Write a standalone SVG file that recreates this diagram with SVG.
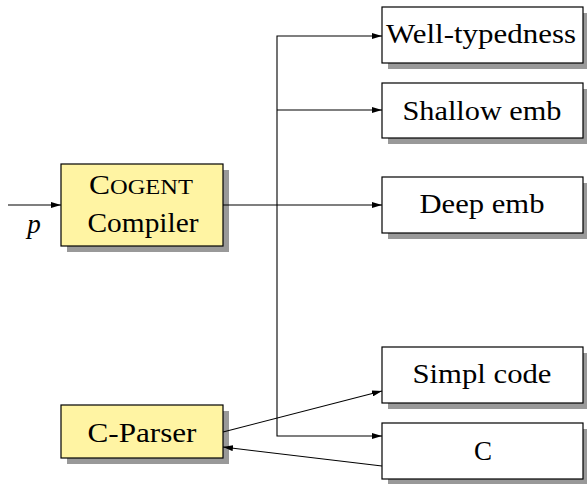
<svg xmlns="http://www.w3.org/2000/svg" width="587" height="484" viewBox="0 0 587 484">
<defs>
<marker id="ah" viewBox="0 0 10 6" refX="10" refY="3" markerWidth="10" markerHeight="6" markerUnits="userSpaceOnUse" orient="auto">
<path d="M0,0 L10,3 L0,6 z" fill="#000"/>
</marker>
</defs>
<style>
.box{fill:#fff;stroke:#000;stroke-width:1.2}
.ybox{fill:#fff4a3;stroke:#000;stroke-width:1.2}
.sh{fill:#999}
.t{font-size:27px;fill:#000;text-anchor:middle}
.c{fill:none;stroke:#000;stroke-width:1.1}
.a{marker-end:url(#ah)}
</style>
<rect width="587" height="484" fill="#fff"/>
<g font-family="Liberation Serif, Times New Roman, Tinos, Noto Serif, DejaVu Serif, FreeSerif, serif">
<g id="compiler">
<rect class="sh" x="67" y="170" width="162" height="82"/>
<rect class="ybox" x="61" y="164" width="162" height="82"/>
<text class="t" x="141" y="194" textLength="104" lengthAdjust="spacingAndGlyphs"><tspan>C</tspan><tspan font-size="21">OGENT</tspan></text>
<text class="t" x="143" y="232" textLength="111" lengthAdjust="spacingAndGlyphs">Compiler</text>
</g>
<g id="cparser">
<rect class="sh" x="67" y="411" width="162" height="53"/>
<rect class="ybox" x="61" y="405" width="162" height="53"/>
<text class="t" x="142" y="442" textLength="109" lengthAdjust="spacingAndGlyphs">C-Parser</text>
</g>
<g id="welltyped">
<rect class="sh" x="388" y="13" width="201" height="56"/>
<rect class="box" x="382" y="7" width="201" height="56"/>
<text class="t" x="481" y="43" textLength="190" lengthAdjust="spacingAndGlyphs">Well-typedness</text>
</g>
<g id="shallow">
<rect class="sh" x="388" y="89" width="201" height="55"/>
<rect class="box" x="382" y="83" width="201" height="55"/>
<text class="t" x="482" y="120" textLength="159" lengthAdjust="spacingAndGlyphs">Shallow emb</text>
</g>
<g id="deep">
<rect class="sh" x="388" y="183" width="201" height="56"/>
<rect class="box" x="382" y="177" width="201" height="56"/>
<text class="t" x="482" y="213" textLength="125" lengthAdjust="spacingAndGlyphs">Deep emb</text>
</g>
<g id="simpl">
<rect class="sh" x="388" y="353" width="201" height="56"/>
<rect class="box" x="382" y="347" width="201" height="56"/>
<text class="t" x="482" y="383" textLength="139" lengthAdjust="spacingAndGlyphs">Simpl code</text>
</g>
<g id="c">
<rect class="sh" x="388" y="429" width="201" height="56"/>
<rect class="box" x="382" y="423" width="201" height="56"/>
<text class="t" x="483" y="460">C</text>
</g>
<g id="connectors">
<path class="c a" d="M8,205 H61"/>
<text class="t" x="34" y="233" font-style="italic">p</text>
<path class="c a" d="M223,205 H382"/>
<path class="c a" d="M277,205 V36 H382"/>
<path class="c a" d="M277,110 H382"/>
<path class="c a" d="M277,205 V436 H382"/>
<path class="c a" d="M223,432 L382,391"/>
<path class="c a" d="M382,466 L223,447"/>
</g>
</g>
</svg>
